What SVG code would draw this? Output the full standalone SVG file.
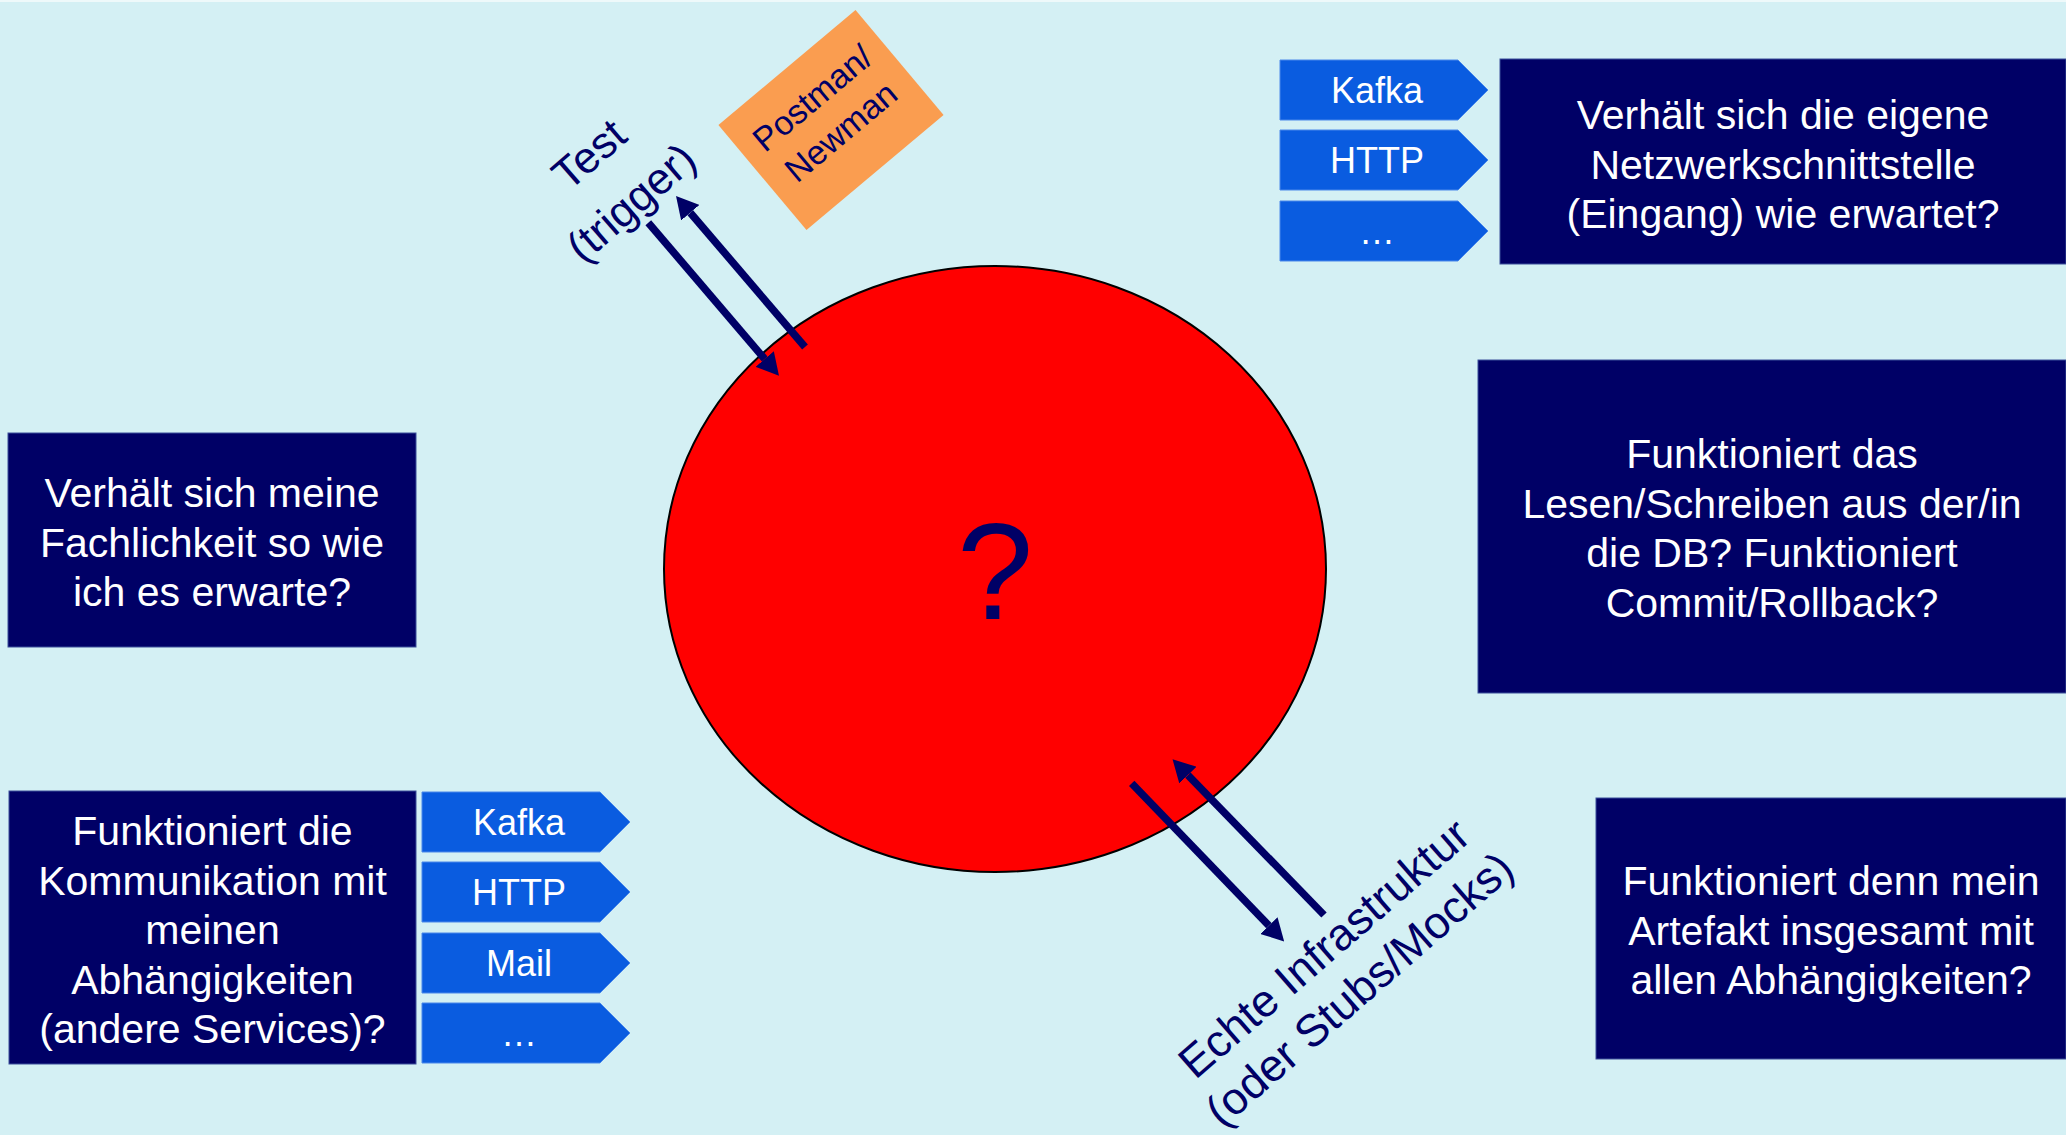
<svg xmlns="http://www.w3.org/2000/svg" xmlns:xlink="http://www.w3.org/1999/xlink" width="2066" height="1135" viewBox="0 0 2066 1135">
<style>
  text { font-family: "Liberation Sans", Arial, sans-serif; }
  .box { fill: #000066; stroke: #3a4f9a; stroke-width: 1; }
  .boxtxt { fill: #ffffff; font-size: 41px; text-anchor: middle; }
  .chev { fill: #0a5ce0; stroke: #4a88ea; stroke-width: 1; }
  .chevtxt { fill: #ffffff; font-size: 36px; text-anchor: middle; }
  .lbl { fill: #000066; font-size: 44px; text-anchor: middle; }
  .lbl2 { fill: #000066; font-size: 45px; text-anchor: middle; }
  .arrow { stroke: #000066; stroke-width: 7.5; fill: none; marker-end: url(#head); }
</style>
<defs>
  <path id="chev" d="M0,0H178L208,30L178,60H0Z"/>
  <marker id="head" markerUnits="userSpaceOnUse" viewBox="0 0 22 24" markerWidth="22" markerHeight="24" refX="0" refY="12" orient="auto">
    <path d="M0,0L22,12L0,24Z" fill="#000066"/>
  </marker>
</defs>
<rect x="0" y="0" width="2066" height="1135" fill="#d4f0f4"/>
<rect x="0" y="0" width="2066" height="2" fill="#eef9fa"/>

<g id="core">
  <ellipse cx="995" cy="569" rx="331" ry="303" fill="#ff0000" stroke="#000000" stroke-width="2"/>
  <text x="995" y="619" fill="#000066" font-size="137" text-anchor="middle">?</text>
</g>

<g id="postman" transform="translate(831,120) rotate(-40)">
  <rect x="-89.5" y="-68.5" width="179" height="137" fill="#fa9d50"/>
  <text x="0" y="-17" fill="#000066" font-size="34" text-anchor="middle">Postman/</text>
  <text x="0" y="27" fill="#000066" font-size="34" text-anchor="middle">Newman</text>
</g>

<g id="label-test" transform="translate(641,214) rotate(-41)">
  <text class="lbl" x="0" y="-64">Test</text>
  <text class="lbl" x="0" y="0">(trigger)</text>
</g>

<g id="label-infra" transform="translate(1334,960) rotate(-41)">
  <text class="lbl2" x="0" y="0">Echte Infrastruktur</text>
  <text class="lbl2" x="0" y="54">(oder Stubs/Mocks)</text>
</g>

<g id="q-fachlichkeit">
  <rect class="box" x="8" y="433" width="408" height="214"/>
  <text class="boxtxt" x="212" y="507">Verhält sich meine</text>
  <text class="boxtxt" x="212" y="556.5">Fachlichkeit so wie</text>
  <text class="boxtxt" x="212" y="606">ich es erwarte?</text>
</g>

<g id="q-kommunikation">
  <rect class="box" x="9" y="791" width="407" height="273"/>
  <text class="boxtxt" x="212.5" y="845">Funktioniert die</text>
  <text class="boxtxt" x="212.5" y="894.5">Kommunikation mit</text>
  <text class="boxtxt" x="212.5" y="944">meinen</text>
  <text class="boxtxt" x="212.5" y="993.5">Abhängigkeiten</text>
  <text class="boxtxt" x="212.5" y="1043">(andere Services)?</text>
</g>

<g id="q-netzwerk">
  <rect class="box" x="1500" y="59" width="566" height="205"/>
  <text class="boxtxt" x="1783" y="129">Verhält sich die eigene</text>
  <text class="boxtxt" x="1783" y="178.5">Netzwerkschnittstelle</text>
  <text class="boxtxt" x="1783" y="228">(Eingang) wie erwartet?</text>
</g>

<g id="q-db">
  <rect class="box" x="1478" y="360" width="588" height="333"/>
  <text class="boxtxt" x="1772" y="468">Funktioniert das</text>
  <text class="boxtxt" x="1772" y="517.5">Lesen/Schreiben aus der/in</text>
  <text class="boxtxt" x="1772" y="567">die DB? Funktioniert</text>
  <text class="boxtxt" x="1772" y="616.5">Commit/Rollback?</text>
</g>

<g id="q-artefakt">
  <rect class="box" x="1596" y="798" width="470" height="261"/>
  <text class="boxtxt" x="1831" y="895">Funktioniert denn mein</text>
  <text class="boxtxt" x="1831" y="944.5">Artefakt insgesamt mit</text>
  <text class="boxtxt" x="1831" y="994">allen Abhängigkeiten?</text>
</g>

<g id="in-kafka" transform="translate(1280,60)">
  <use xlink:href="#chev" class="chev"/>
  <text class="chevtxt" x="97" y="43">Kafka</text>
</g>
<g id="in-http" transform="translate(1280,130)">
  <use xlink:href="#chev" class="chev"/>
  <text class="chevtxt" x="97" y="43">HTTP</text>
</g>
<g id="in-more" transform="translate(1280,201)">
  <use xlink:href="#chev" class="chev"/>
  <text class="chevtxt" x="97" y="43">…</text>
</g>

<g id="out-kafka" transform="translate(422,792)">
  <use xlink:href="#chev" class="chev"/>
  <text class="chevtxt" x="97" y="43">Kafka</text>
</g>
<g id="out-http" transform="translate(422,862)">
  <use xlink:href="#chev" class="chev"/>
  <text class="chevtxt" x="97" y="43">HTTP</text>
</g>
<g id="out-mail" transform="translate(422,933)">
  <use xlink:href="#chev" class="chev"/>
  <text class="chevtxt" x="97" y="43">Mail</text>
</g>
<g id="out-more" transform="translate(422,1003)">
  <use xlink:href="#chev" class="chev"/>
  <text class="chevtxt" x="97" y="43">…</text>
</g>

<g id="connectors">
  <line class="arrow" x1="648.3" y1="222.7" x2="764.7" y2="359"/>
  <line class="arrow" x1="805" y1="347" x2="690.3" y2="212.7"/>
  <line class="arrow" x1="1324" y1="915" x2="1187.9" y2="775.1"/>
  <line class="arrow" x1="1131.7" y1="783.3" x2="1268.9" y2="925.6"/>
</g>
</svg>
